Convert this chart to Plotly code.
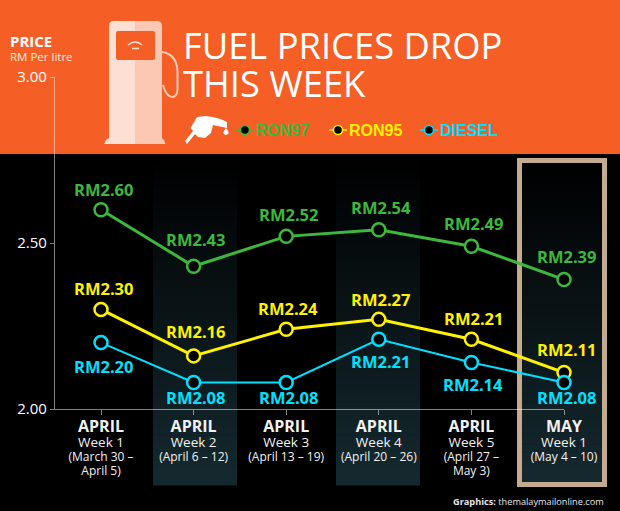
import plotly.graph_objects as go

W, H = 620, 511
weeks = list(range(6))
months = ["APRIL", "APRIL", "APRIL", "APRIL", "APRIL", "MAY"]
week_names = ["Week 1", "Week 2", "Week 3", "Week 4", "Week 5", "Week 1"]
date_ranges = ["(March 30 –<br>April 5)", "(April 6 – 12)", "(April 13 – 19)",
               "(April 20 – 26)", "(April 27 –<br>May 3)", "(May 4 – 10)"]
ron97 = [2.60, 2.43, 2.52, 2.54, 2.49, 2.39]
ron95 = [2.30, 2.16, 2.24, 2.27, 2.21, 2.11]
diesel = [2.20, 2.08, 2.08, 2.21, 2.14, 2.08]
y_ticks = [2.0, 2.5, 3.0]

GREEN, YELLOW, CYAN = "#3db83a", "#fff200", "#00e1ff"
ORANGE, TAN = "#f55f26", "#c4ab8f"
PALE, PALER = "#fde0d3", "#fcc8b3"
OS = "Open Sans"


def px(x):
    return x / W


def py(y):
    return 1 - y / H


def spath(d):
    """Path written in page pixels -> paper coordinates."""
    out, is_x = [], True
    for tok in d.replace(",", " ").split():
        if tok.isalpha():
            out.append(tok)
            is_x = True
        else:
            v = float(tok)
            out.append(f"{px(v) if is_x else py(v):.5f}")
            is_x = not is_x
    return " ".join(out)


shapes = []


def rect(x0, y0, x1, y1, color, line=None, lw=0):
    shapes.append(dict(type="rect", xref="paper", yref="paper", x0=px(x0), x1=px(x1), y0=py(y0), y1=py(y1),
                       fillcolor=color, line=dict(width=lw, color=line), layer="below"))


def path(d, fill=None, line=None, lw=0):
    s = dict(type="path", xref="paper", yref="paper", path=spath(d), layer="below", line=dict(width=lw, color=line))
    if fill:
        s["fillcolor"] = fill
    shapes.append(s)


rect(0, 0, W, 154, ORANGE)


def band(x0, x1, y0, y1):
    n = 40
    for i in range(n):
        t = (i + 0.5) / n
        c = f"rgb({int(21 * t)},{int(42 * t)},{int(48 * t)})"
        rect(x0, y0 + (y1 - y0) * i / n, x1, y0 + (y1 - y0) * (i + 1) / n + 0.5, c)


band(153, 237, 154, 485)
band(336, 420, 154, 485)
band(520, 604, 158, 485)
shapes.append(dict(type="rect", xref="paper", yref="paper", x0=px(519.5), x1=px(604.5), y0=py(160.5), y1=py(484.5),
                   line=dict(width=5, color=TAN), layer="below"))

# pump
path("M 162 52 C 176 54 178 66 177.5 76 L 177.5 90 C 177 100 167 100 163 85", None, PALER, 2)
path("M 109 144 L 109 26 Q 109 21 114 21 L 135 21 L 135 144 Z", PALE)
path("M 135 144 L 135 21 L 157 21 Q 162 21 162 26 L 162 144 Z", PALER)
path("M 104 144 L 106 140 L 109 138 L 135 138 L 135 144 Z", PALE)
path("M 135 144 L 135 138 L 162 138 L 164 140 L 165.5 144 Z", PALER)
path("M 118 31 L 153 31 Q 155 31 155 33 L 155 58 Q 155 60 153 60 L 118 60 Q 116 60 116 58 L 116 33 Q 116 31 118 31 Z", ORANGE)
path("M 128 45 Q 135 39 142 45", None, PALE, 1.5)
path("M 132 48.5 L 139 48.5", None, PALE, 1.5)
# nozzle
path("M 185 141 L 193 131 L 190.5 128 L 197 117 L 205 116 Q 218 117 227 122 L 227 128 L 213 125 L 211 133 L 205 138 L 198 137 L 195 134 L 187 144 Z", "white")
path("M 226 128 Q 222 133 224 134 Q 226 136 228 134 Q 230 133 226 128 Z", "white")

fig = go.Figure()
series = [("RON97", ron97, GREEN, 3), ("RON95", ron95, YELLOW, 3), ("DIESEL", diesel, CYAN, 2)]
for name, vals, col, lw in series:
    fig.add_trace(go.Scatter(x=weeks, y=vals, name=name, mode="lines+markers", cliponaxis=False,
                             line=dict(color=col, width=lw),
                             marker=dict(size=13, color="black", line=dict(color=col, width=2.5)),
                             showlegend=False))

annotations = []
shift97 = [20, 27, 22, 22, 23, 23]
shift95 = [21, 24, 21, 20, 21, 23]
shiftd = [-24, -15, -15, -22, -22, -15]
for vals, col, shifts in [(ron97, GREEN, shift97), (ron95, YELLOW, shift95), (diesel, CYAN, shiftd)]:
    for x, v, s in zip(weeks, vals, shifts):
        annotations.append(dict(x=x, y=v, xref="x", yref="y", text=f"<b>RM{v:.2f}</b>", showarrow=False,
                                yshift=s, xshift=2, font=dict(family=OS, size=16.5, color=col)))


def note(x, y, text, size, color="white", anchor="left", family=OS):
    annotations.append(dict(x=px(x), y=py(y), xref="paper", yref="paper", text=text, showarrow=False,
                            xanchor=anchor, yanchor="middle", font=dict(family=family, size=size, color=color)))


note(8, 41, "<b>PRICE</b>", 15)
note(8, 56, "RM Per litre", 11.5, "#fde8df")
note(181, 45, "FUEL PRICES DROP", 36.3)
note(181, 83, "THIS WEEK", 36.3)
note(606, 501, "<b>Graphics:</b> themalaymailonline.com", 9.2, "#e6e6e6", "right")

for (name, _, col, _), (lx, tx) in zip(series, [(245, 254), (338, 347), (429, 438)]):
    shapes.append(dict(type="line", xref="paper", yref="paper", x0=px(lx - 9), x1=px(lx + 9), y0=py(130), y1=py(130),
                       line=dict(color=col, width=1.5), layer="below"))
    shapes.append(dict(type="circle", xref="paper", yref="paper", x0=px(lx - 4.5), x1=px(lx + 4.5), y0=py(125.5), y1=py(134.5),
                       fillcolor="black", line=dict(color=col, width=1.5), layer="below"))
    note(tx, 130, f"<b>{name}</b>", 16, col, family="Liberation Sans")

tick_text = [
    f"<span style='font-size:16px'><b>{m}</b></span><br><span style='font-size:13.5px'>{w}</span><br>"
    f"<span style='font-size:12px'>{d.replace('<br>', '</span><br><span style=\"font-size:12px\">')}</span>"
    for m, w, d in zip(months, week_names, date_ranges)
]

AX = "rgba(255,255,255,0.5)"
fig.update_layout(
    width=W, height=H, autosize=False,
    margin=dict(l=0, r=0, t=0, b=0, pad=0, autoexpand=False),
    paper_bgcolor="black", plot_bgcolor="rgba(0,0,0,0)",
    shapes=shapes, annotations=annotations, showlegend=False,
    font=dict(family=OS, color="white"),
    xaxis=dict(domain=[px(55), px(564)], range=[(55 - 101) / 92.6, 5], tickvals=weeks, ticktext=tick_text,
               tickangle=0, showgrid=False, zeroline=False, showline=True, linecolor=AX, linewidth=1.2,
               ticks="outside", ticklen=5, tickcolor=AX, ticklabelstandoff=4,
               tickfont=dict(family=OS, size=11, color="#f2f2f2"), anchor="y"),
    yaxis=dict(domain=[py(409), py(77)], range=[2, 3], tickvals=y_ticks, ticktext=[f"{t:.2f}" for t in y_ticks],
               showgrid=False, zeroline=False, showline=True, linecolor=AX, linewidth=1.2,
               ticks="outside", ticklen=4, tickcolor=AX, tickfont=dict(family=OS, size=15, color="white"),
               anchor="x"),
)
fig.write_html("out.html", config=dict(displayModeBar=False),
               post_script="document.body.style.margin='0';document.body.style.background='black';document.documentElement.style.overflow='hidden';")
